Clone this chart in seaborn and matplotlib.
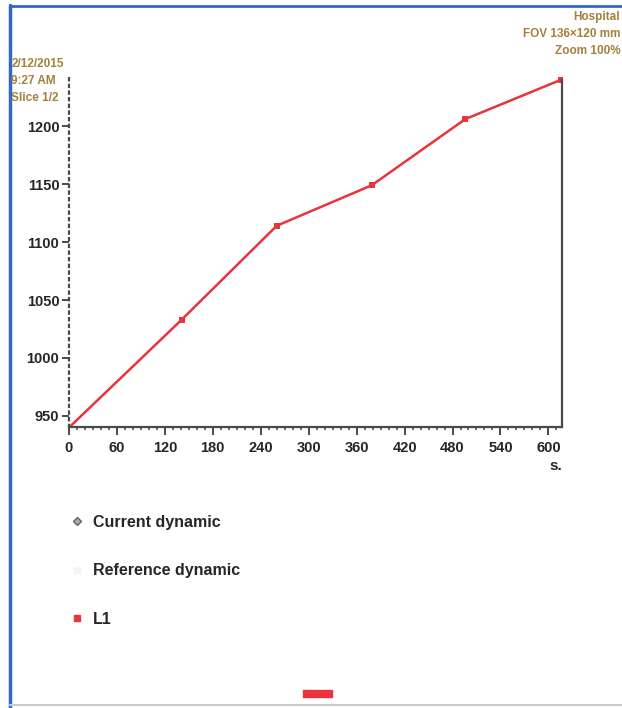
import matplotlib
matplotlib.use('Agg')
import matplotlib.pyplot as plt
import seaborn as sns
import pandas as pd
from matplotlib.lines import Line2D
from matplotlib.patches import Rectangle
from matplotlib.ticker import MultipleLocator

# Dynamic curve for region L1 (time in seconds, signal intensity)
times = [0, 141, 260, 379, 496, 616]
signal = [940, 1033, 1114, 1149, 1206, 1240]
legend_labels = ['Current dynamic', 'Reference dynamic', 'L1']
overlay_right = ['Hospital', 'FOV 136\u00d7120 mm', 'Zoom 100%']
overlay_left = ['2/12/2015', '9:27 AM', 'Slice 1/2']

df = pd.DataFrame({'t': times, 'value': signal})

sns.set_style('white')
plt.rcParams['font.family'] = ['Liberation Sans', 'DejaVu Sans']
plt.rcParams['font.weight'] = 'bold'

fig = plt.figure(figsize=(6.22, 7.08), dpi=100)
ax = fig.add_axes([0.1109, 0.3969, 0.7926, 0.4971])

red = '#e8343c'
sns.lineplot(data=df, x='t', y='value', ax=ax, color=red, linewidth=1.8,
             marker='s', markersize=4.5, markeredgewidth=0, markerfacecolor=red)

ax.set_xlim(0, 617)
ax.set_ylim(940.5, 1244)
ax.xaxis.set_major_locator(MultipleLocator(60))
ax.xaxis.set_minor_locator(MultipleLocator(10))
ax.yaxis.set_major_locator(MultipleLocator(50))
ax.yaxis.set_minor_locator(MultipleLocator(5))

ax.spines['top'].set_visible(False)
for s in ['left', 'right', 'bottom']:
    ax.spines[s].set_color('#4a4a4a')
    ax.spines[s].set_linewidth(1.6)
ax.spines['left'].set_linestyle((0, (1, 2)))
ax.spines['right'].set_bounds(940.5, 1240)

ax.tick_params(axis='both', which='both', bottom=True, left=True, top=False, right=False)
ax.tick_params(axis='both', which='major', direction='out', length=5, width=1.4,
               color='#4a4a4a', labelsize=10.5, pad=2)
ax.tick_params(axis='both', which='minor', direction='out', length=2.5, width=1.2,
               color='#4a4a4a')
ax.tick_params(axis='x', which='major', length=6, pad=4)
ax.tick_params(axis='y', which='minor', length=0)
for lab in ax.get_xticklabels() + ax.get_yticklabels():
    lab.set_fontweight('bold')
ax.set_ylabel('')
ax.set_xlabel('s.', loc='right', fontsize=11, fontweight='bold', labelpad=3)

# scanner overlay text
tan = '#a4803c'
for i, txt in enumerate(overlay_right):
    fig.text(0.997, 0.985 - i * 0.024, txt, ha='right', va='top',
             fontsize=8.5, color=tan, fontweight='bold')
for i, txt in enumerate(overlay_left):
    fig.text(0.018, 0.918 - i * 0.024, txt, ha='left', va='top',
             fontsize=8.5, color=tan, fontweight='bold')

# legend below the chart
handles = [
    Line2D([], [], linestyle='none', marker='D', markersize=4,
           markerfacecolor='#b0a8a8', markeredgecolor='#6a6060'),
    Line2D([], [], linestyle='none', marker='s', markersize=4,
           markerfacecolor='#f4f4f4', markeredgecolor='#f4f4f4'),
    Line2D([], [], linestyle='none', marker='s', markersize=4.5,
           markerfacecolor=red, markeredgecolor=red),
]
fig.legend(handles, legend_labels, loc='upper left', bbox_to_anchor=(0.09, 0.293),
           frameon=False, prop={'weight': 'bold', 'size': 11.5},
           labelspacing=2.1, handlelength=0.8, handletextpad=0.6)

# small red bar at bottom, window frame
fig.patches.append(Rectangle((0.487, 0.0155), 0.0466, 0.0099, color=red,
                             transform=fig.transFigure, figure=fig))
fig.add_artist(Line2D([0.0153, 0.0153], [0.0, 0.993], color='#3566c6',
                      linewidth=2.5, transform=fig.transFigure))
fig.add_artist(Line2D([0.0153, 1.0], [0.9915, 0.9915], color='#3566c6',
                      linewidth=2.0, transform=fig.transFigure))
fig.add_artist(Line2D([0.0153, 1.0], [0.004, 0.004], color='#c8ccd0',
                      linewidth=1.5, transform=fig.transFigure))

fig.savefig('out.png', dpi=100)
